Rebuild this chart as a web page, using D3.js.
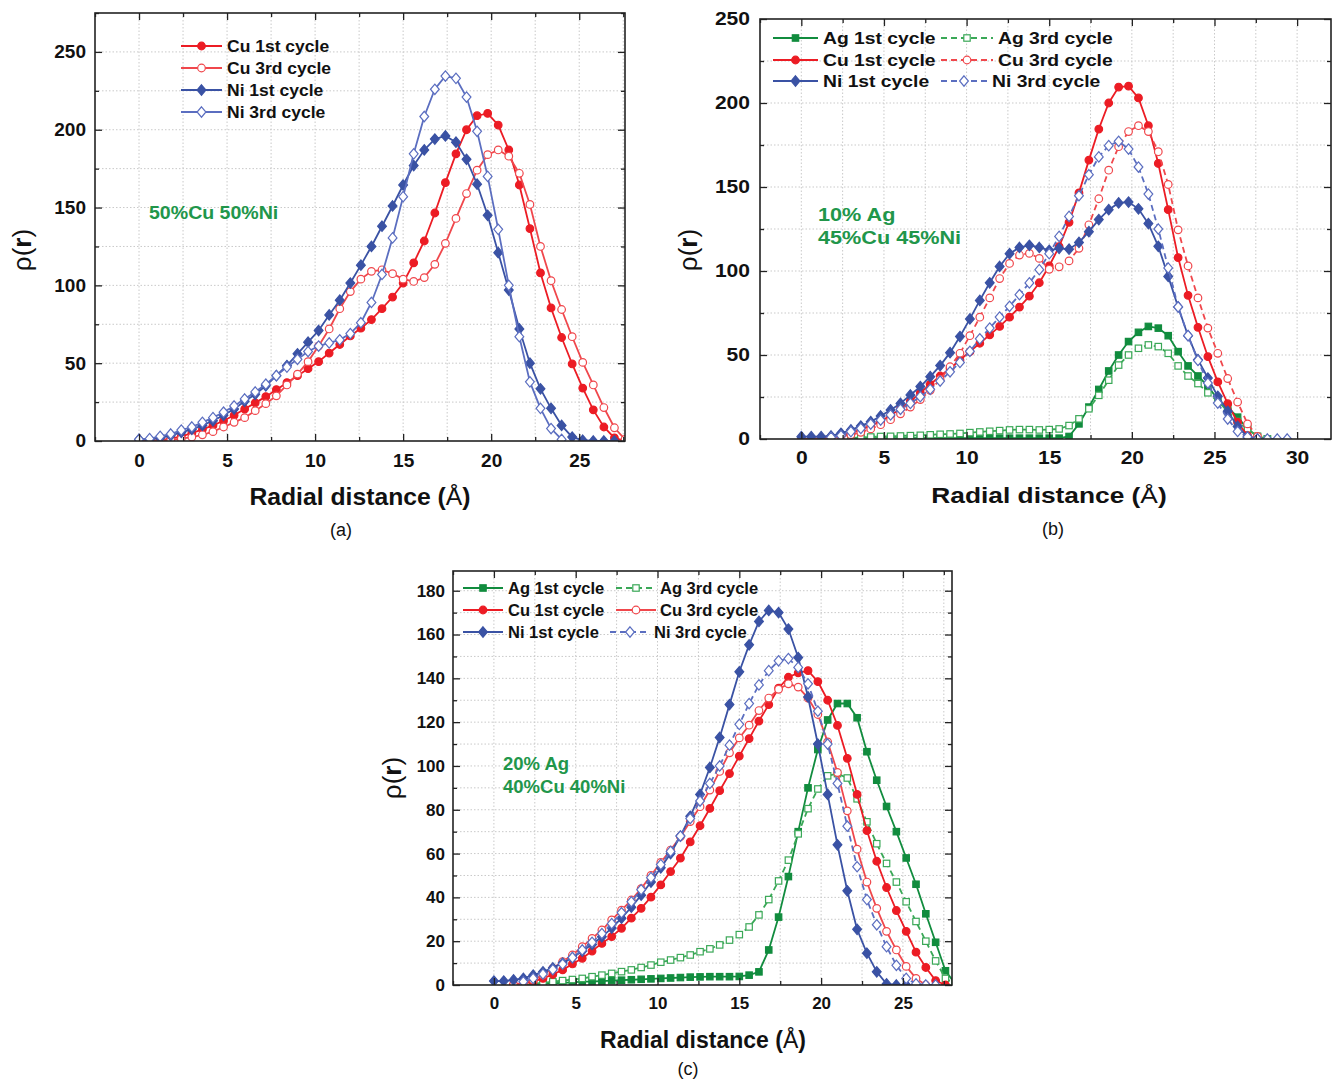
<!DOCTYPE html>
<html>
<head>
<meta charset="utf-8">
<script src="https://cdn.jsdelivr.net/npm/d3@7"></script>
<style>
  body { margin: 0; background: #fff; }
  svg { display: block; }
</style>
</head>
<body>
<svg id="fig" width="1332" height="1079"></svg>
<script>
// ---------- shared radial sampling grid (Å) ----------
const radius = [0,0.6,1.2,1.8,2.4,3,3.6,4.2,4.8,5.4,6,6.6,7.2,7.8,8.4,9,9.6,10.2,10.8,11.4,12,12.6,13.2,13.8,14.4,15,15.6,16.2,16.8,17.4,18,18.6,19.2,19.8,20.4,21,21.6,22.2,22.8,23.4,24,24.6,25.2,25.8,26.4,27,27.6,28.2,28.8,29.4];

// ---------- (a) 50%Cu 50%Ni ----------
const cuA1 = [0,0,0.5,1.5,3,5,7.5,10,13,16.5,20.5,24.5,28.5,33,37.5,42,46.5,51,56.5,62,67.5,72.5,78,85,92.5,101.5,114.5,128.5,146.5,166,184.5,200,209,210.5,203,187,164.5,136.5,108,85.5,66.5,49.5,34,20,9,2,0];
const cuA3 = [0,0,0.3,0.7,1.5,2.5,4,6,9,12,15,19.5,24,29,36,43,51,61,72,85,96,104,109,110,107.5,104,102.5,105,113.5,127,143,159,174,184,187,183,172,152,125,103,84.5,67,50.5,36,21.5,8.5,1];
const niA1 = [1,1,2,3.5,5.5,7.5,10,13,16.5,20.5,25.5,30,35.5,42,48.5,56,63.5,71,81,90.5,101.5,113,125,138,151,164.5,177,187,194,196,192,181,165,145,121,97,72,50,33.5,21,10,2.5,0.5,0,0,0];
const niA3 = [1,1.5,3,4.5,7,9,12,15,18.5,22.5,27,31.5,36.5,42,47.5,52.5,57.5,61,63,65,69,76,89,107,130.5,157,184.5,208.5,226,234.5,233,221,199,170,136,100,67,38,21,8,1];

// ---------- (b) 10% Ag, 45%Cu 45%Ni ----------
const agB1 = [null,null,null,null,null,0.5,0.5,0.5,0.5,0.5,0.5,0.5,0.5,0.5,0.5,0.5,0.5,0.5,0.5,0.5,0.5,0.5,0.5,0.5,0.5,0.5,0.5,1.5,9,19,29.5,40.5,50,58,63.5,67,66,61.5,52,43.5,37.5,31.5,23.5,19,13,6,1.5,0];
const agB3 = [null,null,null,null,null,0.5,1,1.2,1.5,1.6,1.8,2,2.2,2.5,2.8,3,3.3,3.8,4.2,4.6,5,5.4,5.6,5.6,5.4,5.6,6,8,12,18,26,35,44,50,54,56,55,51,43.5,37.5,33,27.5,22.5,16.5,10.5,6,1.5,0];
const cuB1 = [0,0,0.3,1,2,3.5,5.5,8,10.5,14,18,22.5,27.5,32.5,37.5,42,47,52,57,62,67,72.5,78.5,85,93,103,114.5,129,146.5,166,184.5,200,209.5,210,203,186.5,164,136.5,108,85.5,66.5,49,34,21,10,2,0];
const cuB3 = [0,0,0.3,0.8,1.5,2.5,4,6,8.5,11.5,15,19,23.5,29,35.5,43,51,61.5,72.5,84,95.5,104.5,109.5,110.5,107.5,101,102.5,106,113.5,127.5,143,160,174,183,186.5,183,171,151.5,124.5,103,84,66,51,36,22,9,1.5];
const niB1 = [1.4,1.4,1.4,1.8,3.4,5.4,7.7,10.3,13.7,17.3,21.2,26.2,31.2,37.1,43.7,51.4,61,71.5,82.5,93,102.7,110.3,114,115.3,114,112.3,113.5,113,117,123.4,130.6,136.5,140.5,141,137,128.2,114.7,96.8,78.6,61.5,47.2,36.3,25.4,16.5,7.5,1.2,0];
const niB3 = [null,null,null,1,2,4.4,6.3,8.9,11.3,14.3,17.7,21.2,25.2,29.6,34.5,40,45.6,52.2,59.6,66,72.6,79,85.9,92.9,100.8,110.3,120.6,132.5,144.8,157.3,167.9,174.6,177.2,172.6,161.9,145.8,125,101.8,78.6,61.5,46.8,33.3,21.4,11.9,4.5,1.2,0,0,0,0];

// ---------- (c) 20% Ag, 40%Cu 40%Ni ----------
const agC1 = [null,null,null,null,0.3,0.5,0.8,1,1.2,1.5,1.6,1.8,2,2.2,2.4,2.6,2.8,3,3.2,3.4,3.6,3.7,3.8,3.8,3.8,3.9,4.5,6,16,31,49.5,70,90,107.5,121,128.5,128.5,122,106.5,93.5,81.5,70,58,46,32.5,19.5,6.5,0.5];
const agC3 = [null,null,null,0,0.5,1,1.5,2,2.5,3,3.8,4.5,5.3,6.1,6.9,8,9.1,10.4,11.4,12.5,13.7,15.2,16.5,18.3,20.5,23,26.5,32,39,47.5,57,69,80.5,89.5,95.5,96.5,94.5,85,74.5,64.5,55.5,47,38,29,20,11,3,0.5];
const cuC1 = [null,null,0.3,0.8,1.5,3,4.8,6.9,9.6,12.2,15.5,19,22.1,25.9,30.5,35,40.1,45.7,51.8,57.9,65.3,72.7,80.6,88.7,96.5,104.5,112.5,120.5,128,135.5,140.5,142.5,143.5,138.5,130,118.5,103.5,87,70.5,56.5,44.5,34,24.5,15,8,2,0];
const cuC3 = [null,null,0,0.8,2.3,4.6,7.6,10.7,13.7,17.5,21.3,25.1,29.7,34.2,38.8,44,50,56,61.6,67.7,74.6,81.4,89,97.5,106,112.8,118.6,125.3,131,135,137.5,136,131,123.5,111,97,79.5,62,47,35,24.5,16,8.5,3,0];
const niC1 = [1.8,1.8,2.3,3,4.5,6,7.8,10,12.5,15.5,18.5,22,26,30.5,35.5,41,47,53.5,60,68,77,87,99.3,113,128,143,155.3,166,171,170,162.5,149.5,131.5,110,87,64,43,25.4,14.5,6,0.5,0,0];
const niC3 = [null,null,null,1.5,3,5,7,9.5,12.5,16,19.5,23.5,28,33,38,43.5,49,55,61,68,76,84,92,100,109.5,119,128.5,137,143.5,148,149,145,137.5,125,110,92,72.5,54,39,27.5,17.5,9,3,0.5,0,0];

// ---------- tick labels ----------
const xTicksA = [0,5,10,15,20,25];
const yTicksA = [0,50,100,150,200,250];
const xTicksB = [0,5,10,15,20,25,30];
const yTicksB = [0,50,100,150,200,250];
const xTicksC = [0,5,10,15,20,25];
const yTicksC = [0,20,40,60,80,100,120,140,160,180];

// ---------- styling ----------
const FONT = '"Liberation Sans", Arial, Helvetica, sans-serif';
const RED1 = "#ec1c24", RED3 = "#f0474c";
const BLUE1 = "#3a52a4", BLUE3 = "#5b6ec0";
const GREEN1 = "#118c3e", GREEN3 = "#3aa857";
const NOTE = "#21964a";
const DASH = "6,4";

const svg = d3.select("#fig").style("font-family", FONT);
const defs = svg.append("defs");

function S(label, values, color, shape, open, dashed) {
  return {label, values, color, shape, open, dashed};
}

const panels = [
  {
    id: "a", left: 95, right: 625, top: 13, bottom: 441,
    xDomain: [-2.5, 27.6], yDomain: [0, 275],
    xTicks: xTicksA, yTicks: yTicksA, xMinor: 2.5, yMinor: 25,
    sx: 1.03, tickFont: 18.5, titleFont: 24, legendFont: 17, noteFont: 19,
    yPad: 9, xPad: 13,
    series: [
      S("Cu 1st cycle", cuA1, RED1, "circle", false, false),
      S("Cu 3rd cycle", cuA3, RED3, "circle", true, false),
      S("Ni 1st cycle", niA1, BLUE1, "diamond", false, false),
      S("Ni 3rd cycle", niA3, BLUE3, "diamond", true, false)
    ],
    legend: [
      {s: 0, x1: 181, x2: 222, tx: 227, y: 46},
      {s: 1, x1: 181, x2: 222, tx: 227, y: 68},
      {s: 2, x1: 181, x2: 222, tx: 227, y: 90},
      {s: 3, x1: 181, x2: 222, tx: 227, y: 112}
    ],
    note: {x: 149, y: 212, lines: ["50%Cu 50%Ni"]},
    xTitle: {x: 360, y: 497}, yTitle: {x: 22, y: 250}, caption: {text: "(a)", x: 341, y: 530}
  },
  {
    id: "b", left: 760, right: 1331, top: 19, bottom: 439,
    xDomain: [-2.5, 32.05], yDomain: [0, 250],
    xTicks: xTicksB, yTicks: yTicksB, xMinor: 2.5, yMinor: 25,
    sx: 1.17, tickFont: 18, titleFont: 22.5, legendFont: 16.5, noteFont: 18.5,
    yPad: 10, xPad: 12,
    series: [
      S("Ag 1st cycle", agB1, GREEN1, "square", false, false),
      S("Ag 3rd cycle", agB3, GREEN3, "square", true, true),
      S("Cu 1st cycle", cuB1, RED1, "circle", false, false),
      S("Cu 3rd cycle", cuB3, RED3, "circle", true, true),
      S("Ni 1st cycle", niB1, BLUE1, "diamond", false, false),
      S("Ni 3rd cycle", niB3, BLUE3, "diamond", true, true)
    ],
    legend: [
      {s: 0, x1: 773, x2: 818, tx: 823, y: 38},
      {s: 2, x1: 773, x2: 818, tx: 823, y: 60},
      {s: 4, x1: 773, x2: 818, tx: 823, y: 81},
      {s: 1, x1: 941, x2: 993, tx: 998, y: 38},
      {s: 3, x1: 941, x2: 993, tx: 998, y: 60},
      {s: 5, x1: 941, x2: 987, tx: 992, y: 81}
    ],
    note: {x: 818, y: 215, lines: ["10% Ag", "45%Cu 45%Ni"], gap: 23},
    xTitle: {x: 1049, y: 495}, yTitle: {x: 688, y: 250}, caption: {text: "(b)", x: 1053, y: 529}
  },
  {
    id: "c", left: 453, right: 952, top: 571, bottom: 985,
    xDomain: [-2.5, 28], yDomain: [0, 189],
    xTicks: xTicksC, yTicks: yTicksC, xMinor: 2.5, yMinor: 10,
    sx: 1.0, tickFont: 17, titleFont: 23, legendFont: 16.5, noteFont: 18.5,
    yPad: 8, xPad: 12,
    series: [
      S("Ag 1st cycle", agC1, GREEN1, "square", false, false),
      S("Ag 3rd cycle", agC3, GREEN3, "square", true, true),
      S("Cu 1st cycle", cuC1, RED1, "circle", false, false),
      S("Cu 3rd cycle", cuC3, RED3, "circle", true, false),
      S("Ni 1st cycle", niC1, BLUE1, "diamond", false, false),
      S("Ni 3rd cycle", niC3, BLUE3, "diamond", true, true)
    ],
    legend: [
      {s: 0, x1: 463, x2: 503, tx: 508, y: 588},
      {s: 2, x1: 463, x2: 503, tx: 508, y: 610},
      {s: 4, x1: 463, x2: 503, tx: 508, y: 632},
      {s: 1, x1: 616, x2: 656, tx: 660, y: 588},
      {s: 3, x1: 616, x2: 656, tx: 660, y: 610},
      {s: 5, x1: 610, x2: 650, tx: 654, y: 632}
    ],
    note: {x: 503, y: 764, lines: ["20% Ag", "40%Cu 40%Ni"], gap: 23},
    xTitle: {x: 703, y: 1040}, yTitle: {x: 392, y: 778}, caption: {text: "(c)", x: 688, y: 1069}
  }
];

// ---------- marker drawing ----------
function drawMarker(g, shape, cx, cy, color, open) {
  const fill = open ? "#fff" : color;
  let m;
  if (shape === "circle") {
    m = g.append("circle").attr("cx", cx).attr("cy", cy).attr("r", 3.8);
  } else if (shape === "square") {
    m = g.append("rect").attr("x", cx - 3.2).attr("y", cy - 3.2).attr("width", 6.4).attr("height", 6.4);
  } else {
    const w = 4.4, h = 5.2;
    m = g.append("path").attr("d", `M${cx},${cy - h}L${cx + w},${cy}L${cx},${cy + h}L${cx - w},${cy}Z`);
  }
  m.attr("fill", fill).attr("stroke", color).attr("stroke-width", 1.2);
}

// text placed at (x,y) with a horizontal stretch factor
function label(parent, x, y, str, o) {
  const t = parent.append("text")
    .attr("transform", `translate(${x},${y})` + (o.rotate ? ` rotate(${o.rotate})` : "") + ` scale(${o.sx || 1},1)`)
    .attr("dy", "0.35em")
    .attr("text-anchor", o.anchor || "start")
    .attr("font-size", o.size)
    .attr("font-weight", o.weight || "bold")
    .attr("fill", o.fill || "#111");
  if (str !== null) t.text(str);
  return t;
}

function minorTicks(domain, step, major) {
  const out = [];
  const start = Math.ceil(domain[0] / step) * step;
  for (let v = start; v <= domain[1] + 1e-9; v += step) {
    const r = Math.round(v * 1000) / 1000;
    if (!major.includes(r)) out.push(r);
  }
  return out;
}

function drawPanel(p) {
  const g = svg.append("g").attr("class", "panel-" + p.id);
  const x = d3.scaleLinear().domain(p.xDomain).range([p.left, p.right]);
  const y = d3.scaleLinear().domain(p.yDomain).range([p.bottom, p.top]);
  const W = p.right - p.left, H = p.bottom - p.top;

  defs.append("clipPath").attr("id", "clip-" + p.id)
    .append("rect").attr("x", p.left).attr("y", p.top).attr("width", W).attr("height", H);

  const xMin = minorTicks(p.xDomain, p.xMinor, p.xTicks);
  const yMin = minorTicks(p.yDomain, p.yMinor, p.yTicks);

  // dotted grid at major and minor positions
  const grid = g.append("g").attr("stroke", "#c9c9c9").attr("stroke-width", 1).attr("stroke-dasharray", "1.5,2");
  p.xTicks.concat(xMin).forEach(v => {
    const px = x(v);
    if (px > p.left + 1 && px < p.right - 1)
      grid.append("line").attr("x1", px).attr("x2", px).attr("y1", p.top).attr("y2", p.bottom);
  });
  p.yTicks.concat(yMin).forEach(v => {
    const py = y(v);
    if (py > p.top + 1 && py < p.bottom - 1)
      grid.append("line").attr("x1", p.left).attr("x2", p.right).attr("y1", py).attr("y2", py);
  });

  // curves
  const plot = g.append("g").attr("clip-path", `url(#clip-${p.id})`);
  const line = d3.line().x(d => x(d.r)).y(d => y(d.v));
  p.series.forEach(s => {
    const pts = radius.map((r, i) => ({r, v: s.values[i]})).filter(d => d.v !== null && d.v !== undefined);
    plot.append("path").datum(pts).attr("d", line)
      .attr("fill", "none").attr("stroke", s.color).attr("stroke-width", 1.8)
      .attr("stroke-dasharray", s.dashed ? DASH : null);
    const mk = plot.append("g");
    pts.forEach(d => drawMarker(mk, s.shape, x(d.r), y(d.v), s.color, s.open));
  });

  // axes on four sides, ticks pointing inward
  const fmt = d3.format("d");
  const axB = g.append("g").attr("transform", `translate(0,${p.bottom})`)
    .call(d3.axisBottom(x).tickValues(p.xTicks).tickSize(-7).tickPadding(p.xPad).tickFormat(fmt));
  g.append("g").attr("transform", `translate(0,${p.bottom})`)
    .call(d3.axisBottom(x).tickValues(xMin).tickSize(-4).tickFormat(""));
  g.append("g").attr("transform", `translate(0,${p.top})`)
    .call(d3.axisTop(x).tickValues(p.xTicks).tickSize(-7).tickFormat(""));
  g.append("g").attr("transform", `translate(0,${p.top})`)
    .call(d3.axisTop(x).tickValues(xMin).tickSize(-4).tickFormat(""));
  const axL = g.append("g").attr("transform", `translate(${p.left},0)`)
    .call(d3.axisLeft(y).tickValues(p.yTicks).tickSize(-7).tickPadding(p.yPad).tickFormat(fmt));
  g.append("g").attr("transform", `translate(${p.left},0)`)
    .call(d3.axisLeft(y).tickValues(yMin).tickSize(-4).tickFormat(""));
  g.append("g").attr("transform", `translate(${p.right},0)`)
    .call(d3.axisRight(y).tickValues(p.yTicks).tickSize(-7).tickFormat(""));
  g.append("g").attr("transform", `translate(${p.right},0)`)
    .call(d3.axisRight(y).tickValues(yMin).tickSize(-4).tickFormat(""));
  g.selectAll(".domain").remove();
  g.selectAll(".tick line").attr("stroke", "#222").attr("stroke-width", 1.3);
  [axB, axL].forEach(a => a.selectAll(".tick text")
    .attr("font-family", FONT).attr("font-size", p.tickFont).attr("font-weight", "bold").attr("fill", "#111"));
  axB.selectAll(".tick text").attr("transform", `scale(${p.sx},1)`);
  axL.selectAll(".tick text").attr("x", -p.yPad / p.sx).attr("transform", `scale(${p.sx},1)`);

  // frame
  g.append("rect").attr("x", p.left).attr("y", p.top).attr("width", W).attr("height", H)
    .attr("fill", "none").attr("stroke", "#222").attr("stroke-width", 1.6);

  // legend
  const lg = g.append("g");
  p.legend.forEach(e => {
    const s = p.series[e.s];
    lg.append("line").attr("x1", e.x1).attr("x2", e.x2).attr("y1", e.y).attr("y2", e.y)
      .attr("stroke", s.color).attr("stroke-width", 1.9)
      .attr("stroke-dasharray", s.dashed ? DASH : null);
    drawMarker(lg, s.shape, (e.x1 + e.x2) / 2, e.y, s.color, s.open);
    label(lg, e.tx, e.y, s.label, {size: p.legendFont, sx: p.sx});
  });

  // composition note
  p.note.lines.forEach((t, i) =>
    label(g, p.note.x, p.note.y + i * (p.note.gap || 0), t, {size: p.noteFont, sx: p.sx, fill: NOTE}));

  // axis titles
  const xt = label(g, p.xTitle.x, p.xTitle.y, null, {size: p.titleFont, sx: p.sx, anchor: "middle"});
  xt.append("tspan").text("Radial distance (");
  xt.append("tspan").attr("font-weight", "normal").text("Å");
  xt.append("tspan").text(")");

  const yt = label(g, p.yTitle.x, p.yTitle.y, null, {size: 26, sx: 1, anchor: "middle", rotate: -90});
  yt.append("tspan").attr("font-weight", "normal").text("ρ(");
  yt.append("tspan").attr("font-weight", "bold").text("r");
  yt.append("tspan").attr("font-weight", "normal").text(")");

  label(g, p.caption.x, p.caption.y, p.caption.text, {size: 18, weight: "normal", anchor: "middle"});
}

panels.forEach(drawPanel);
</script>
</body>
</html>
